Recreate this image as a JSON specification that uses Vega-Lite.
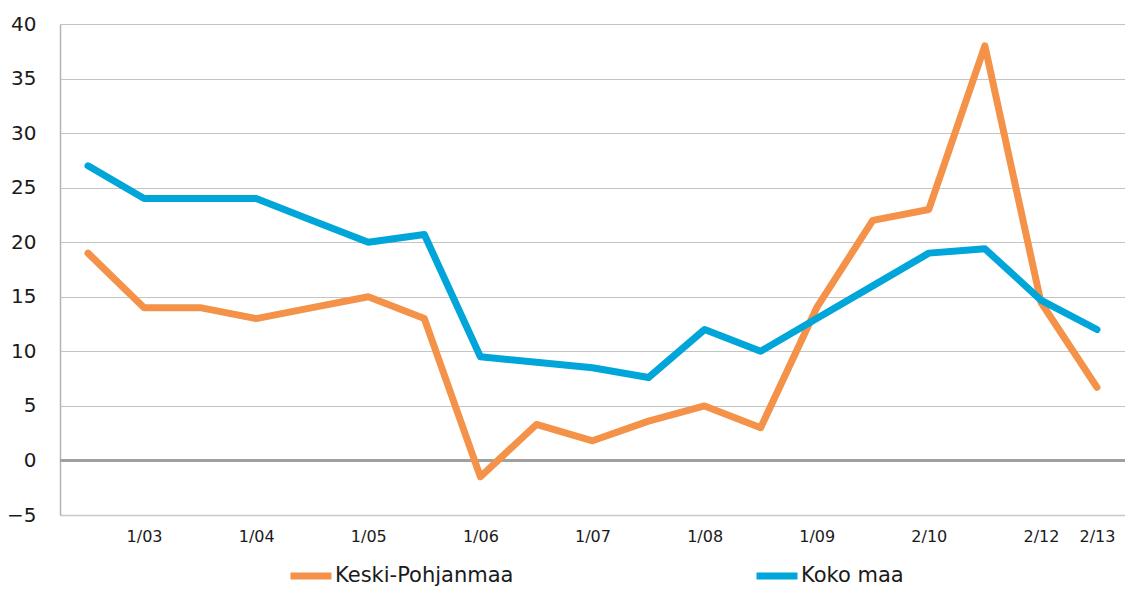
{
  "$schema": "https://vega.github.io/schema/vega-lite/v6.json",
  "width": 1065,
  "height": 491,
  "autosize": "none",
  "padding": {"left": 60, "top": 24, "right": 0, "bottom": 75},
  "background": "white",
  "config": {
    "view": {"stroke": null},
    "font": "DejaVu Sans",
    "axisY": {
      "title": null,
      "grid": true,
      "values": [-5, 0, 5, 10, 15, 20, 25, 30, 35, 40],
      "ticks": false,
      "domainColor": "#b4b4b4",
      "domainWidth": 1.5,
      "gridColor": "#c4c4c4",
      "gridWidth": 1.2,
      "labelFontSize": 20,
      "labelColor": "#1a1a1a",
      "labelPadding": 24
    }
  },
  "data": {
    "values": [
      {"period": "2/02", "series": "Keski-Pohjanmaa", "value": 19},
      {"period": "1/03", "series": "Keski-Pohjanmaa", "value": 14},
      {"period": "2/03", "series": "Keski-Pohjanmaa", "value": 14},
      {"period": "1/04", "series": "Keski-Pohjanmaa", "value": 13},
      {"period": "2/04", "series": "Keski-Pohjanmaa", "value": 14},
      {"period": "1/05", "series": "Keski-Pohjanmaa", "value": 15},
      {"period": "2/05", "series": "Keski-Pohjanmaa", "value": 13},
      {"period": "1/06", "series": "Keski-Pohjanmaa", "value": -1.5},
      {"period": "2/06", "series": "Keski-Pohjanmaa", "value": 3.3},
      {"period": "1/07", "series": "Keski-Pohjanmaa", "value": 1.8},
      {"period": "2/07", "series": "Keski-Pohjanmaa", "value": 3.6},
      {"period": "1/08", "series": "Keski-Pohjanmaa", "value": 5},
      {"period": "2/08", "series": "Keski-Pohjanmaa", "value": 3},
      {"period": "1/09", "series": "Keski-Pohjanmaa", "value": 14},
      {"period": "2/09", "series": "Keski-Pohjanmaa", "value": 22},
      {"period": "2/10", "series": "Keski-Pohjanmaa", "value": 23},
      {"period": "2/11", "series": "Keski-Pohjanmaa", "value": 38},
      {"period": "2/12", "series": "Keski-Pohjanmaa", "value": 14.5},
      {"period": "2/13", "series": "Keski-Pohjanmaa", "value": 6.7},
      {"period": "2/02", "series": "Koko maa", "value": 27},
      {"period": "1/03", "series": "Koko maa", "value": 24},
      {"period": "2/03", "series": "Koko maa", "value": 24},
      {"period": "1/04", "series": "Koko maa", "value": 24},
      {"period": "2/04", "series": "Koko maa", "value": 22},
      {"period": "1/05", "series": "Koko maa", "value": 20},
      {"period": "2/05", "series": "Koko maa", "value": 20.7},
      {"period": "1/06", "series": "Koko maa", "value": 9.5},
      {"period": "2/06", "series": "Koko maa", "value": 9},
      {"period": "1/07", "series": "Koko maa", "value": 8.5},
      {"period": "2/07", "series": "Koko maa", "value": 7.6},
      {"period": "1/08", "series": "Koko maa", "value": 12},
      {"period": "2/08", "series": "Koko maa", "value": 10},
      {"period": "1/09", "series": "Koko maa", "value": 13},
      {"period": "2/09", "series": "Koko maa", "value": 16},
      {"period": "2/10", "series": "Koko maa", "value": 19},
      {"period": "2/11", "series": "Koko maa", "value": 19.4},
      {"period": "2/12", "series": "Koko maa", "value": 14.7},
      {"period": "2/13", "series": "Koko maa", "value": 12}
    ]
  },
  "layer": [
    {
      "mark": {"type": "rule", "color": "#a0a0a0", "strokeWidth": 1.5},
      "encoding": {"y": {"datum": 0, "type": "quantitative", "scale": {"domain": [-5, 40], "nice": false, "zero": false}, "axis": {"grid": true}}}
    },
    {
      "mark": {"type": "line", "strokeWidth": 7, "strokeCap": "round", "strokeJoin": "round"},
      "encoding": {
        "x": {
          "field": "period",
          "type": "ordinal",
          "sort": null,
          "scale": {"type": "point", "padding": 0.5},
          "axis": {
            "title": null,
            "ticks": false,
            "domain": true,
            "domainColor": "#c8c8c8",
            "domainWidth": 1.5,
            "labelAngle": 0,
            "labelFontSize": 16,
            "labelColor": "#1a1a1a",
            "labelPadding": 13,
            "labelExpr": "indexof(['1/03','1/04','1/05','1/06','1/07','1/08','1/09','2/10','2/12','2/13'], datum.label) >= 0 ? datum.label : ''"
          }
        },
        "y": {
          "field": "value",
          "type": "quantitative",
          "scale": {"domain": [-5, 40], "nice": false, "zero": false},
          "axis": {"grid": true}
        },
        "color": {
          "field": "series",
          "type": "nominal",
          "scale": {"domain": ["Keski-Pohjanmaa", "Koko maa"], "range": ["#F39248", "#00A6D9"]},
          "legend": {
            "title": null,
            "orient": "none",
            "legendX": 227,
            "legendY": 528,
            "direction": "horizontal",
            "symbolType": "stroke",
            "symbolSize": 1681,
            "symbolStrokeWidth": 7,
            "labelFontSize": 21,
            "labelLimit": 300,
            "labelColor": "#1a1a1a",
            "labelOffset": 0,
            "columnPadding": 228
          }
        }
      }
    }
  ]
}
